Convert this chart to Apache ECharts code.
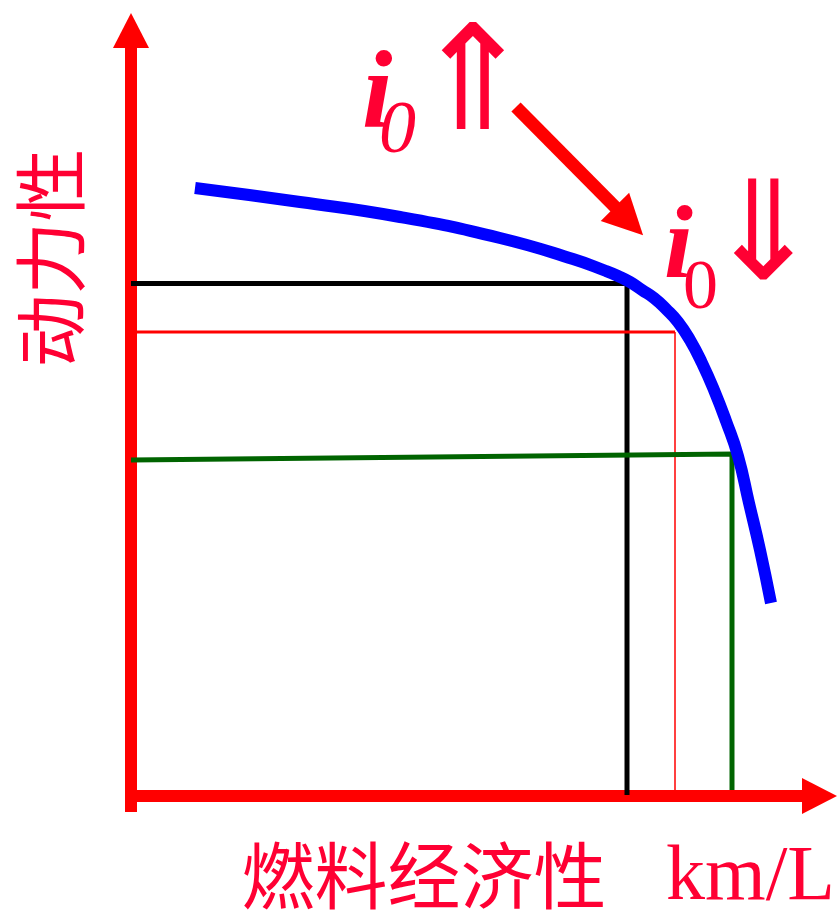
<!DOCTYPE html>
<html lang="zh">
<head>
    <meta charset="UTF-8">
    <title>动力性 - 燃料经济性</title>
    <script src="https://cdn.jsdelivr.net/npm/echarts@6/dist/echarts.min.js"></script>
    <style>
        html, body {margin: 0; padding: 0; background: #fff;}
        #chartContainer {width: 840px; height: 911px;}
    </style>
</head>
<body>
<div id="chartContainer"></div>
<script type="text/javascript">
    // 曲线: 燃料经济性 (x) - 动力性 (y), 示意单位
    var curveFuel = [64, 169, 269, 369, 442, 475, 487, 499, 511, 523, 535, 547, 559, 571, 583, 595, 607, 618, 629, 640];
    var curvePower = [608, 594, 579, 558, 537, 525, 520, 514, 506, 498, 487, 474, 456, 433, 406, 375, 340, 293, 246, 193];

    // 三条辅助线: 黑 / 红 / 绿
    var guideFuel = [496, 544, 601];
    var guidePowerLeft = [512.5, 464, 336];
    var guidePowerRight = [512.5, 464, 342];
    var guideBottom = [1, 6, 6];

    // 红色斜箭头 (起点, 终点)
    var arrowFrom = [385, 689];
    var arrowTo = [498, 575];

    var textColor = '#ff0033';

    drawChart();

    function guideLine(i, color, width) {
        return {
            type: 'line',
            data: [[0, guidePowerLeft[i]], [guideFuel[i], guidePowerRight[i]], [guideFuel[i], guideBottom[i]]],
            symbol: 'none',
            lineStyle: {color: color, width: width, join: 'miter'},
            z: 3
        };
    }

    function label(text, x, y, font, align) {
        return {
            type: 'text', x: x, y: y, z: 10,
            style: {text: text, font: font, fill: textColor, align: align || 'left', verticalAlign: 'middle'}
        };
    }

    function drawChart() {
        var chartDom = document.getElementById('chartContainer');
        var myChart = echarts.init(chartDom);
        var curveData = curveFuel.map(function (x, i) {
            return [x, curvePower[i]];
        });
        var axisLine = {
            show: true,
            onZero: true,
            symbol: ['none', 'triangle'],
            symbolSize: [36, 35],
            lineStyle: {color: '#ff0000', width: 12, cap: 'butt'}
        };
        var yTitle = label('动力性', 50, 258, '73px "Noto Sans CJK SC"', 'center');
        yTitle.rotation = Math.PI / 2;
        var option = {
            animation: false,
            backgroundColor: '#ffffff',
            grid: {left: 125, right: 20.5, top: 30.5, bottom: 99},
            xAxis: {
                type: 'value', min: -6, max: 688.5,
                axisLine: axisLine,
                axisTick: {show: false}, axisLabel: {show: false}, splitLine: {show: false}
            },
            yAxis: {
                type: 'value', min: -16, max: 765.5,
                axisLine: axisLine,
                axisTick: {show: false}, axisLabel: {show: false}, splitLine: {show: false}
            },
            series: [
                guideLine(0, '#000000', 5),
                {
                    type: 'line',
                    data: [[0, guidePowerLeft[1]], [guideFuel[1], guidePowerRight[1]]],
                    symbol: 'none',
                    lineStyle: {color: '#ff0000', width: 3},
                    z: 3
                },
                {
                    type: 'line',
                    data: [[guideFuel[1], guidePowerRight[1]], [guideFuel[1], guideBottom[1]]],
                    symbol: 'none',
                    lineStyle: {color: '#ff0000', width: 1.5},
                    z: 3
                },
                guideLine(2, '#006400', 5),
                {
                    type: 'line',
                    data: curveData,
                    symbol: 'none',
                    smooth: 0.5,
                    lineStyle: {color: '#0000ff', width: 12, cap: 'butt'},
                    z: 4
                },
                {
                    type: 'lines',
                    coordinateSystem: 'cartesian2d',
                    symbol: ['none', 'triangle'],
                    symbolSize: [39, 40],
                    lineStyle: {color: '#ff0000', width: 13, opacity: 1, curveness: 0},
                    data: [{coords: [arrowFrom, arrowTo]}],
                    z: 5
                }
            ],
            graphic: [
                // i0 ⇑
                label('i', 362, 99, 'italic bold 110px "Liberation Serif"'),
                label('0', 379, 133, 'italic 74px "Liberation Serif"'),
                label('⇑', 473, 91, '146px "DejaVu Sans"', 'center'),
                // i0 ⇓
                label('i', 664, 250, 'italic bold 104px "Liberation Serif"'),
                label('0', 683, 290, '70px "Liberation Serif"'),
                label('⇓', 763, 243, '138px "DejaVu Sans"', 'center'),
                // 坐标轴标题
                yTitle,
                label('燃料经济性', 424, 875, '73px "Noto Sans CJK SC"', 'center'),
                label('km/L', 666, 879, '78px "Liberation Serif"')
            ]
        };
        option && myChart.setOption(option);
    }
</script>
</body>
</html>
